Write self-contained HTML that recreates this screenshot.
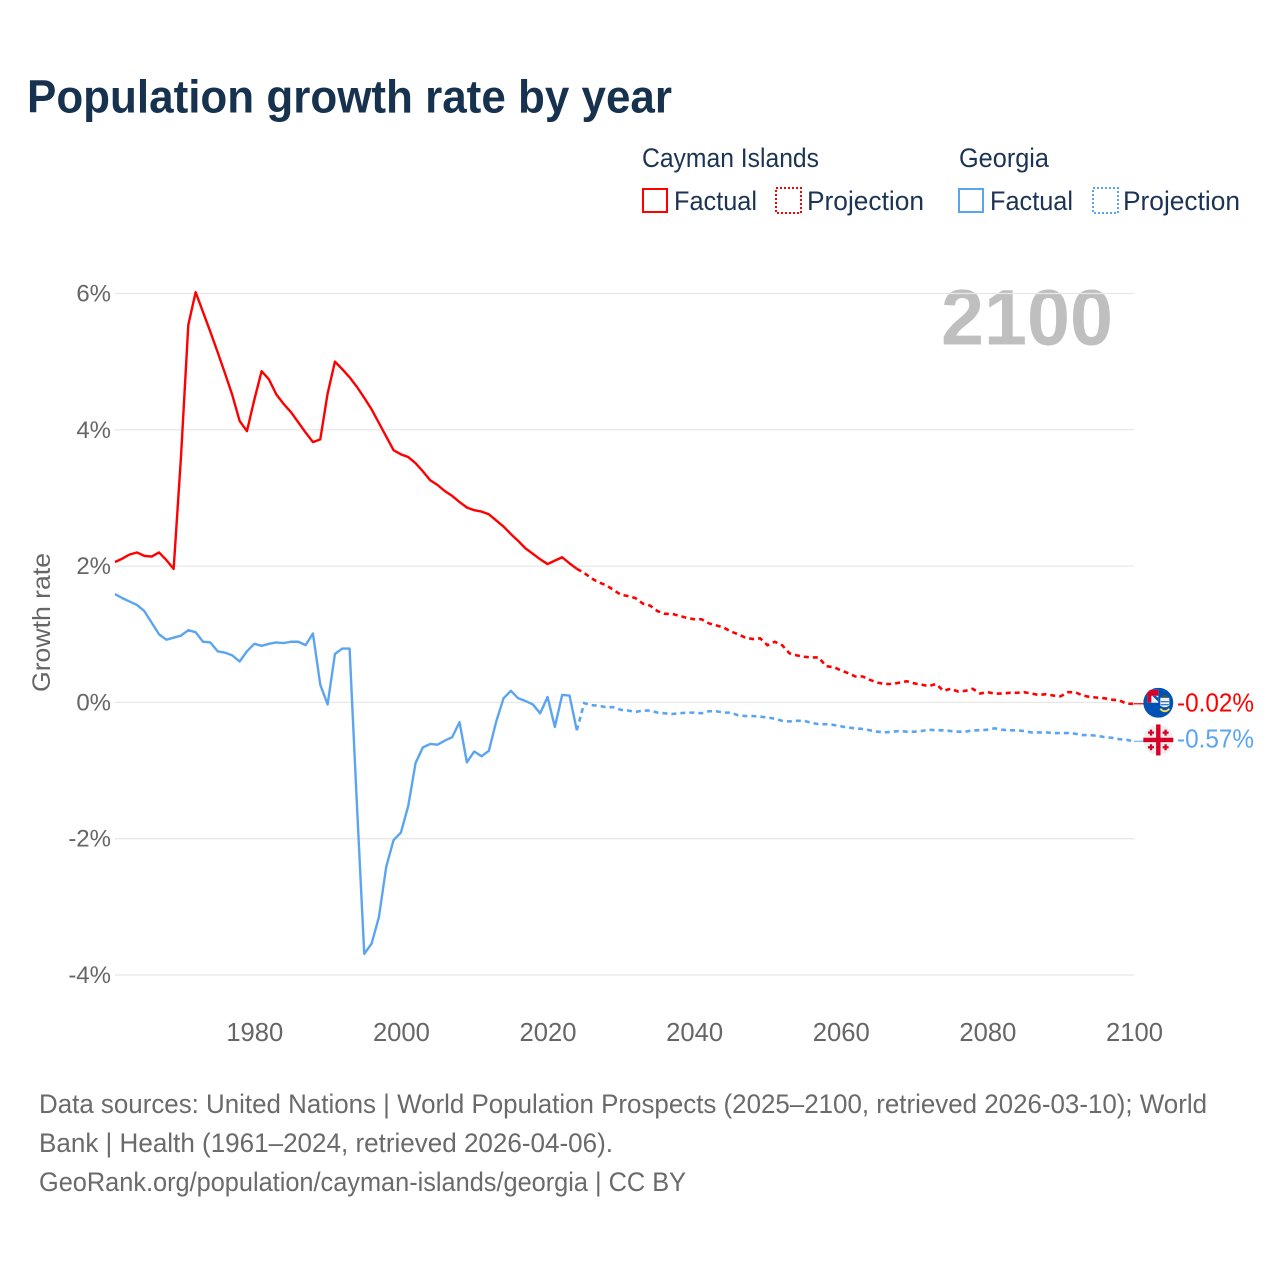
<!DOCTYPE html>
<html lang="en">
<head>
<meta charset="utf-8">
<title>Population growth rate by year</title>
<style>
html,body{margin:0;padding:0;background:#fff;width:1280px;height:1280px;overflow:hidden}
svg{display:block}
text{font-family:"Liberation Sans",sans-serif}
</style>
</head>
<body>
<svg id="chart" xmlns="http://www.w3.org/2000/svg" width="1280" height="1280" viewBox="0 0 1280 1280">
  <defs>
    <clipPath id="disc"><circle cx="0" cy="0" r="15"/></clipPath>
  </defs>
  <rect x="0" y="0" width="1280" height="1280" fill="#fff"/>
  <text x="27" y="112.5" font-size="46" font-weight="700" fill="#17324f" textLength="645" lengthAdjust="spacingAndGlyphs">Population growth rate by year</text>

  <g fill="#1c3454" font-size="27">
    <text x="642" y="167" textLength="177" lengthAdjust="spacingAndGlyphs">Cayman Islands</text>
    <text x="959" y="167" textLength="90" lengthAdjust="spacingAndGlyphs">Georgia</text>
    <rect x="643" y="189" width="24" height="23" fill="none" stroke="#ff0000" stroke-width="2"/>
    <text x="674" y="210" textLength="83" lengthAdjust="spacingAndGlyphs">Factual</text>
    <rect x="776" y="188" width="25" height="25" fill="none" stroke="#ff0000" stroke-width="2" stroke-dasharray="2 2"/>
    <text x="807" y="210" textLength="117" lengthAdjust="spacingAndGlyphs">Projection</text>
    <rect x="959" y="189" width="24" height="23" fill="none" stroke="#5ba5f0" stroke-width="2"/>
    <text x="990" y="210" textLength="83" lengthAdjust="spacingAndGlyphs">Factual</text>
    <rect x="1093" y="188" width="25" height="25" fill="none" stroke="#5ba5f0" stroke-width="2" stroke-dasharray="2 2"/>
    <text x="1123" y="210" textLength="117" lengthAdjust="spacingAndGlyphs">Projection</text>
  </g>

  <text x="941" y="344.5" font-size="79" font-weight="700" fill="#bfbfbf" textLength="172" lengthAdjust="spacingAndGlyphs">2100</text>
  <g id="grid"></g>
  <g id="axes"></g>
  <text transform="translate(50,692) rotate(-90)" font-size="25" fill="#666" textLength="139" lengthAdjust="spacingAndGlyphs">Growth rate</text>
  <g id="series"></g>
  <g id="endpoints"></g>

  <g font-size="26.5" fill="#6a6a6a">
    <text x="39" y="1113" textLength="1168" lengthAdjust="spacingAndGlyphs">Data sources: United Nations | World Population Prospects (2025–2100, retrieved 2026-03-10); World</text>
    <text x="39" y="1152" textLength="574" lengthAdjust="spacingAndGlyphs">Bank | Health (1961–2024, retrieved 2026-04-06).</text>
    <text x="39" y="1191" textLength="647" lengthAdjust="spacingAndGlyphs">GeoRank.org/population/cayman-islands/georgia | CC BY</text>
  </g>
</svg>

<script>
const firstFactualYear = 1961;
const firstProjectionYear = 2024;
const xTicks = [1980, 2000, 2020, 2040, 2060, 2080, 2100];
const yTicks = [6, 4, 2, 0, -2, -4];

const caymanFactual = [2.06,2.11,2.17,2.20,2.15,2.14,2.20,2.09,1.96,3.60,5.54,6.02,5.73,5.44,5.14,4.83,4.51,4.13,3.98,4.44,4.86,4.74,4.52,4.38,4.26,4.11,3.96,3.82,3.86,4.53,5.00,4.89,4.77,4.63,4.47,4.30,4.10,3.90,3.70,3.64,3.60,3.51,3.39,3.26,3.19,3.10,3.03,2.94,2.86,2.82,2.80,2.76,2.67,2.58,2.47,2.37,2.26,2.18,2.10,2.03,2.08,2.13,2.04,1.96];
const caymanProjection = [1.96,1.90,1.82,1.76,1.72,1.65,1.58,1.56,1.53,1.45,1.42,1.34,1.30,1.30,1.27,1.24,1.22,1.22,1.16,1.13,1.10,1.04,1.00,0.95,0.93,0.94,0.84,0.89,0.84,0.72,0.69,0.67,0.66,0.66,0.53,0.52,0.47,0.43,0.38,0.38,0.33,0.29,0.27,0.27,0.29,0.31,0.28,0.26,0.24,0.27,0.17,0.20,0.16,0.17,0.20,0.13,0.15,0.13,0.13,0.14,0.14,0.15,0.13,0.11,0.12,0.10,0.09,0.15,0.15,0.10,0.08,0.07,0.06,0.04,0.03,-0.02,-0.02];
const georgiaFactual = [1.59,1.53,1.48,1.43,1.34,1.17,1.00,0.92,0.95,0.98,1.06,1.03,0.89,0.88,0.75,0.73,0.69,0.60,0.75,0.86,0.83,0.86,0.88,0.87,0.89,0.89,0.84,1.01,0.26,-0.03,0.71,0.79,0.79,-1.50,-3.69,-3.54,-3.15,-2.41,-2.02,-1.91,-1.52,-0.89,-0.66,-0.61,-0.62,-0.56,-0.51,-0.29,-0.88,-0.72,-0.79,-0.71,-0.28,0.06,0.17,0.06,0.02,-0.03,-0.16,0.08,-0.36,0.11,0.10,-0.41];
const georgiaProjection = [-0.41,-0.01,-0.04,-0.05,-0.07,-0.07,-0.11,-0.12,-0.14,-0.12,-0.12,-0.15,-0.16,-0.17,-0.16,-0.15,-0.15,-0.16,-0.13,-0.13,-0.15,-0.15,-0.19,-0.20,-0.20,-0.21,-0.22,-0.24,-0.27,-0.28,-0.27,-0.27,-0.30,-0.32,-0.32,-0.33,-0.35,-0.37,-0.38,-0.39,-0.41,-0.43,-0.44,-0.43,-0.42,-0.43,-0.43,-0.42,-0.40,-0.41,-0.41,-0.42,-0.43,-0.43,-0.41,-0.41,-0.40,-0.38,-0.40,-0.41,-0.41,-0.42,-0.44,-0.44,-0.44,-0.45,-0.45,-0.45,-0.46,-0.48,-0.48,-0.49,-0.51,-0.52,-0.54,-0.55,-0.57];

const SVGNS = 'http://www.w3.org/2000/svg';
const RED = '#ff0000';
const BLUE = '#5ba5f0';
const plot = {left: 115, right: 1134, yearMin: 1961, yearMax: 2100, zeroY: 702.4, pxPerPct: 68.15};

function xScale(year) {
  return plot.left + (year - plot.yearMin) * (plot.right - plot.left) / (plot.yearMax - plot.yearMin);
}
function yScale(pct) {
  return plot.zeroY - pct * plot.pxPerPct;
}
function make(tag, parent, attrs) {
  const el = document.createElementNS(SVGNS, tag);
  for (const key in attrs) el.setAttribute(key, attrs[key]);
  parent.appendChild(el);
  return el;
}
function pathFrom(values, startYear) {
  return values.map(function (v, i) {
    return (i ? 'L' : 'M') + xScale(startYear + i).toFixed(2) + ' ' + yScale(v).toFixed(2);
  }).join(' ');
}
function pctLabel(v) {
  return v + '%';
}

const gridLayer = document.getElementById('grid');


const axesLayer = document.getElementById('axes');


const seriesLayer = document.getElementById('series');


const endLayer = document.getElementById('endpoints');



yTicks.forEach(function (t) {
  const line = make('line', gridLayer, {x1: plot.left, x2: plot.right, y1: yScale(t), y2: yScale(t), stroke: '#e8e8e8', 'stroke-width': 1.3});
  
  
  const label = make('text', axesLayer, {x: 111, y: yScale(t) + 8, 'text-anchor': 'end', 'font-size': 24, fill: '#666'});
  label.textContent = pctLabel(t);
  
  
});

xTicks.forEach(function (t) {
  const label = make('text', axesLayer, {x: xScale(t) + 0.5, y: 1041, 'text-anchor': 'middle', 'font-size': 25.6, fill: '#666'});
  label.textContent = String(t);
  
  
});

const caymanLine = make('path', seriesLayer, {d: pathFrom(caymanFactual, firstFactualYear), fill: 'none', stroke: RED, 'stroke-width': 2.4, 'stroke-linejoin': 'round'});


const caymanDash = make('path', seriesLayer, {d: pathFrom(caymanProjection, firstProjectionYear), fill: 'none', stroke: RED, 'stroke-width': 2.6, 'stroke-dasharray': '5 4'});


const georgiaLine = make('path', seriesLayer, {d: pathFrom(georgiaFactual, firstFactualYear), fill: 'none', stroke: BLUE, 'stroke-width': 2.4, 'stroke-linejoin': 'round'});


const georgiaDash = make('path', seriesLayer, {d: pathFrom(georgiaProjection, firstProjectionYear), fill: 'none', stroke: BLUE, 'stroke-width': 2.6, 'stroke-dasharray': '5 4'});



const flagX = 1158.3;
const caymanLast = caymanProjection[caymanProjection.length - 1];
const georgiaLast = georgiaProjection[georgiaProjection.length - 1];

const caymanTail = make('line', endLayer, {x1: xScale(2100), x2: flagX, y1: yScale(caymanLast), y2: yScale(caymanLast), stroke: RED, 'stroke-width': 1.3});


const georgiaTail = make('line', endLayer, {x1: xScale(2100), x2: flagX, y1: yScale(georgiaLast), y2: yScale(georgiaLast), stroke: BLUE, 'stroke-width': 1.1});



/* Cayman Islands flag */
const cf = make('g', endLayer, {transform: 'translate(' + flagX + ',' + (yScale(caymanLast) - 1) + ')'});


const cfClip = make('g', cf, {'clip-path': 'url(#disc)'});
make('rect', cfClip, {x: -15, y: -15, width: 30, height: 30, fill: '#0052b4'});
make('rect', cfClip, {x: -11, y: -13, width: 11, height: 13, fill: '#f0f0f0'});
make('rect', cfClip, {x: -11, y: -13, width: 11, height: 6, fill: '#d80027'});
make('rect', cfClip, {x: -11, y: -13, width: 4, height: 13, fill: '#d80027'});
make('path', cfClip, {d: 'M-6 -7 L0 -1 V-5 L-3 -7 Z', fill: '#0052b4'});
make('path', cf, {d: 'M2 -5 H11 V3 Q6.5 6 2 3 Z', fill: '#f0f0f0'});
make('path', cf, {d: 'M2.5 -1 H10.5 M2.5 2 H10.5', stroke: '#0052b4', 'stroke-width': 1, fill: 'none'});
make('path', cf, {d: 'M3 -5 Q6.5 -11 10 -5 Z', fill: '#3f5a4a'});
make('path', cf, {d: 'M2 6 Q6.5 11 11 6', stroke: '#ffda44', 'stroke-width': 2, fill: 'none'});

/* Georgia flag */
const gf = make('g', endLayer, {transform: 'translate(' + flagX + ',' + (yScale(georgiaLast) - 1.3) + ')'});


make('circle', gf, {cx: 0, cy: 0, r: 15, fill: '#eeeeee'});
make('rect', gf, {x: -15, y: -2.2, width: 30, height: 4.4, fill: '#d80027'});
make('rect', gf, {x: -2.2, y: -15.5, width: 4.4, height: 31, fill: '#d80027'});
[[-7.3, -7.3], [7.3, -7.3], [-7.3, 7.3], [7.3, 7.3]].forEach(function (c) {
  make('path', gf, {d: 'M' + (c[0] - 3) + ' ' + c[1] + ' H' + (c[0] + 3) + ' M' + c[0] + ' ' + (c[1] - 3) + ' V' + (c[1] + 3), stroke: '#d80027', 'stroke-width': 2.3, fill: 'none'});
});

const caymanValue = make('text', endLayer, {x: 1177, y: yScale(caymanLast) + 7.5, 'font-size': 25.5, fill: RED, textLength: 77, lengthAdjust: 'spacingAndGlyphs'});
caymanValue.textContent = caymanLast.toFixed(2) + '%';


const georgiaValue = make('text', endLayer, {x: 1177, y: yScale(georgiaLast) + 6.5, 'font-size': 25.5, fill: BLUE, textLength: 77, lengthAdjust: 'spacingAndGlyphs'});
georgiaValue.textContent = georgiaLast.toFixed(2) + '%';


</script>
</body>
</html>
